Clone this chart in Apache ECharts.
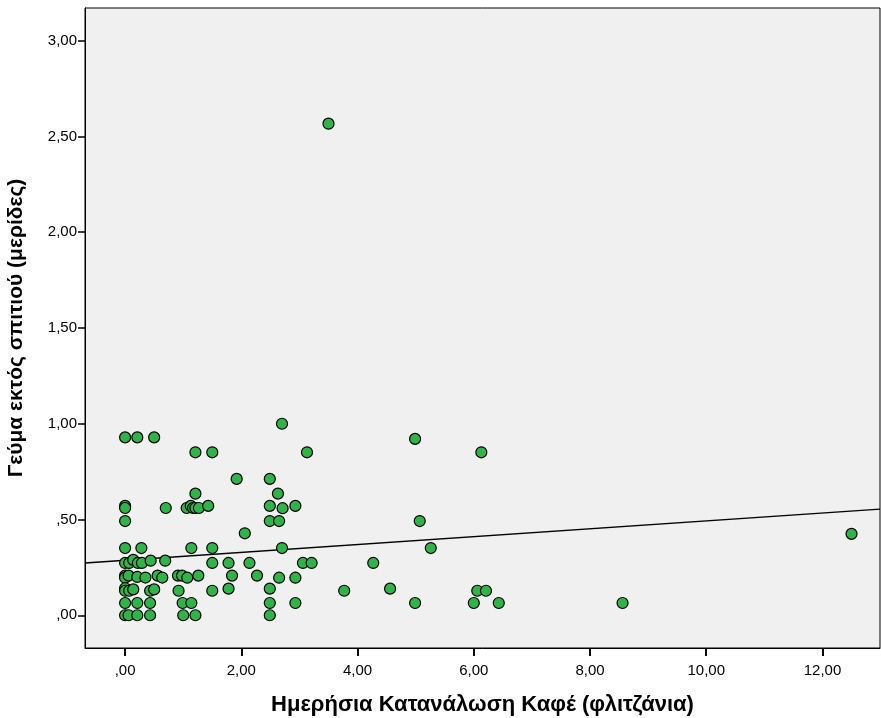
<!DOCTYPE html>
<html>
<head>
<meta charset="utf-8">
<script src="https://cdn.jsdelivr.net/npm/echarts@6/dist/echarts.min.js"></script>
<style>
  html, body { margin: 0; padding: 0; background: #ffffff; }
  #chart { width: 881px; height: 718px; }
</style>
</head>
<body>
<div id="chart"></div>
<script>
// Daily coffee consumption (cups) vs. meals eaten out (portions)
const coffeeCups = [
  0, 0, 0, 0, 0, 0, 0, 0, 0, 0, 0, 0,
  0.07, 0.06, 0.07, 0.06,
  0.14, 0.14,
  0.21, 0.22, 0.21, 0.21, 0.21,
  0.28, 0.29,
  0.35,
  0.44, 0.43, 0.43, 0.43,
  0.50, 0.50,
  0.56, 0.64,
  0.69, 0.70,
  0.91, 0.92,
  0.98, 0.99, 1.00,
  1.07, 1.06,
  1.14, 1.13, 1.14,
  1.17,
  1.21, 1.21, 1.21, 1.21,
  1.26, 1.27,
  1.43,
  1.50, 1.50, 1.50, 1.50,
  1.78, 1.78, 1.84, 1.92,
  2.06, 2.14, 2.27,
  2.49, 2.49, 2.49, 2.49, 2.49, 2.49,
  2.63, 2.65, 2.65,
  2.70, 2.70, 2.71,
  2.93, 2.93, 2.93,
  3.06, 3.13, 3.21, 3.50, 3.77,
  4.27, 4.56,
  4.99, 4.99, 5.07, 5.26,
  6.00, 6.06, 6.13, 6.21, 6.43,
  8.56, 12.50
];
const mealsOut = [
  0.929, 0.571, 0.560, 0.492, 0.351, 0.273, 0.207, 0.196, 0.141, 0.128, 0.064, 0,
  0.273, 0.207, 0.128, 0,
  0.289, 0.135,
  0.929, 0.273, 0.200, 0.064, 0,
  0.351, 0.273,
  0.197,
  0.285, 0.128, 0.064, 0,
  0.929, 0.135,
  0.207, 0.197,
  0.285, 0.560,
  0.207, 0.128,
  0.207, 0.064, 0,
  0.196, 0.560,
  0.351, 0.571, 0.064,
  0.560,
  0.851, 0.635, 0.560, 0,
  0.207, 0.560,
  0.571,
  0.851, 0.351, 0.273, 0.128,
  0.273, 0.139, 0.207, 0.712,
  0.428, 0.273, 0.207,
  0.712, 0.571, 0.492, 0.139, 0.064, 0,
  0.635, 0.492, 0.196,
  1.000, 0.351, 0.559,
  0.571, 0.196, 0.064,
  0.273, 0.851, 0.273, 2.567, 0.128,
  0.273, 0.139,
  0.921, 0.064, 0.492, 0.351,
  0.064, 0.128, 0.851, 0.128, 0.064,
  0.064, 0.425
];

// Linear fit line: meals = fitIntercept + fitSlope * cups
const fitIntercept = 0.287;
const fitSlope = 0.0206;

const xTicks = [0, 2, 4, 6, 8, 10, 12];
const yTicks = [0, 0.5, 1, 1.5, 2, 2.5, 3];

const xTitle = 'Ημερήσια Κατανάλωση Καφέ (φλιτζάνια)';
const yTitle = 'Γεύμα εκτός σπιτιού (μερίδες)';

const xMin = -0.69, xMax = 12.99;
const yMin = -0.171, yMax = 3.171;

function fmt(v) {
  let s = v.toFixed(2).replace('.', ',');
  if (Math.abs(v) < 1) s = s.replace(/^0/, '');
  return s;
}

const points = coffeeCups.map((x, i) => [x, mealsOut[i]]);
const fitLine = [xMin, xMax].map(x => [x, fitIntercept + fitSlope * x]);

const labelFont = 'Liberation Sans, Arial, sans-serif';

const chart = echarts.init(document.getElementById('chart'), null, { renderer: 'canvas' });
chart.setOption({
  animation: false,
  backgroundColor: '#ffffff',
  grid: {
    left: 85, top: 8, right: 1, bottom: 70,
    containLabel: false,
    outerBoundsMode: 'none',
    show: true,
    backgroundColor: '#f0f0f0',
    borderColor: '#000000',
    borderWidth: 1
  },
  xAxis: {
    type: 'value',
    min: xMin, max: xMax,
    name: xTitle,
    nameLocation: 'middle',
    nameGap: 46,
    nameTextStyle: { fontFamily: labelFont, fontWeight: 'bold', fontSize: 22, color: '#000' },
    axisLine: { show: true, onZero: false, lineStyle: { color: '#000', width: 1 } },
    axisTick: { show: true, length: 8, customValues: xTicks, lineStyle: { color: '#000', width: 2 } },
    axisLabel: { customValues: xTicks, formatter: fmt, margin: 15, fontFamily: labelFont, fontSize: 15, color: '#000' },
    splitLine: { show: false }
  },
  yAxis: {
    type: 'value',
    min: yMin, max: yMax,
    name: yTitle,
    nameLocation: 'middle',
    nameGap: 58,
    nameTextStyle: { fontFamily: labelFont, fontWeight: 'bold', fontSize: 21, color: '#000' },
    axisLine: { show: true, onZero: false, lineStyle: { color: '#000', width: 1 } },
    axisTick: { show: true, length: 7, customValues: yTicks, lineStyle: { color: '#000', width: 1.5 } },
    axisLabel: { customValues: yTicks, formatter: fmt, margin: 8, fontFamily: labelFont, fontSize: 15, color: '#000' },
    splitLine: { show: false }
  },
  series: [
    {
      type: 'line',
      data: fitLine,
      symbol: 'none',
      lineStyle: { color: '#000', width: 1.3 },
      silent: true,
      z: 1
    },
    {
      type: 'scatter',
      data: points,
      symbol: 'circle',
      symbolSize: 11,
      itemStyle: { color: '#30b44a', borderColor: '#000', borderWidth: 1.2, opacity: 1 },
      z: 2
    }
  ]
});
</script>
</body>
</html>
